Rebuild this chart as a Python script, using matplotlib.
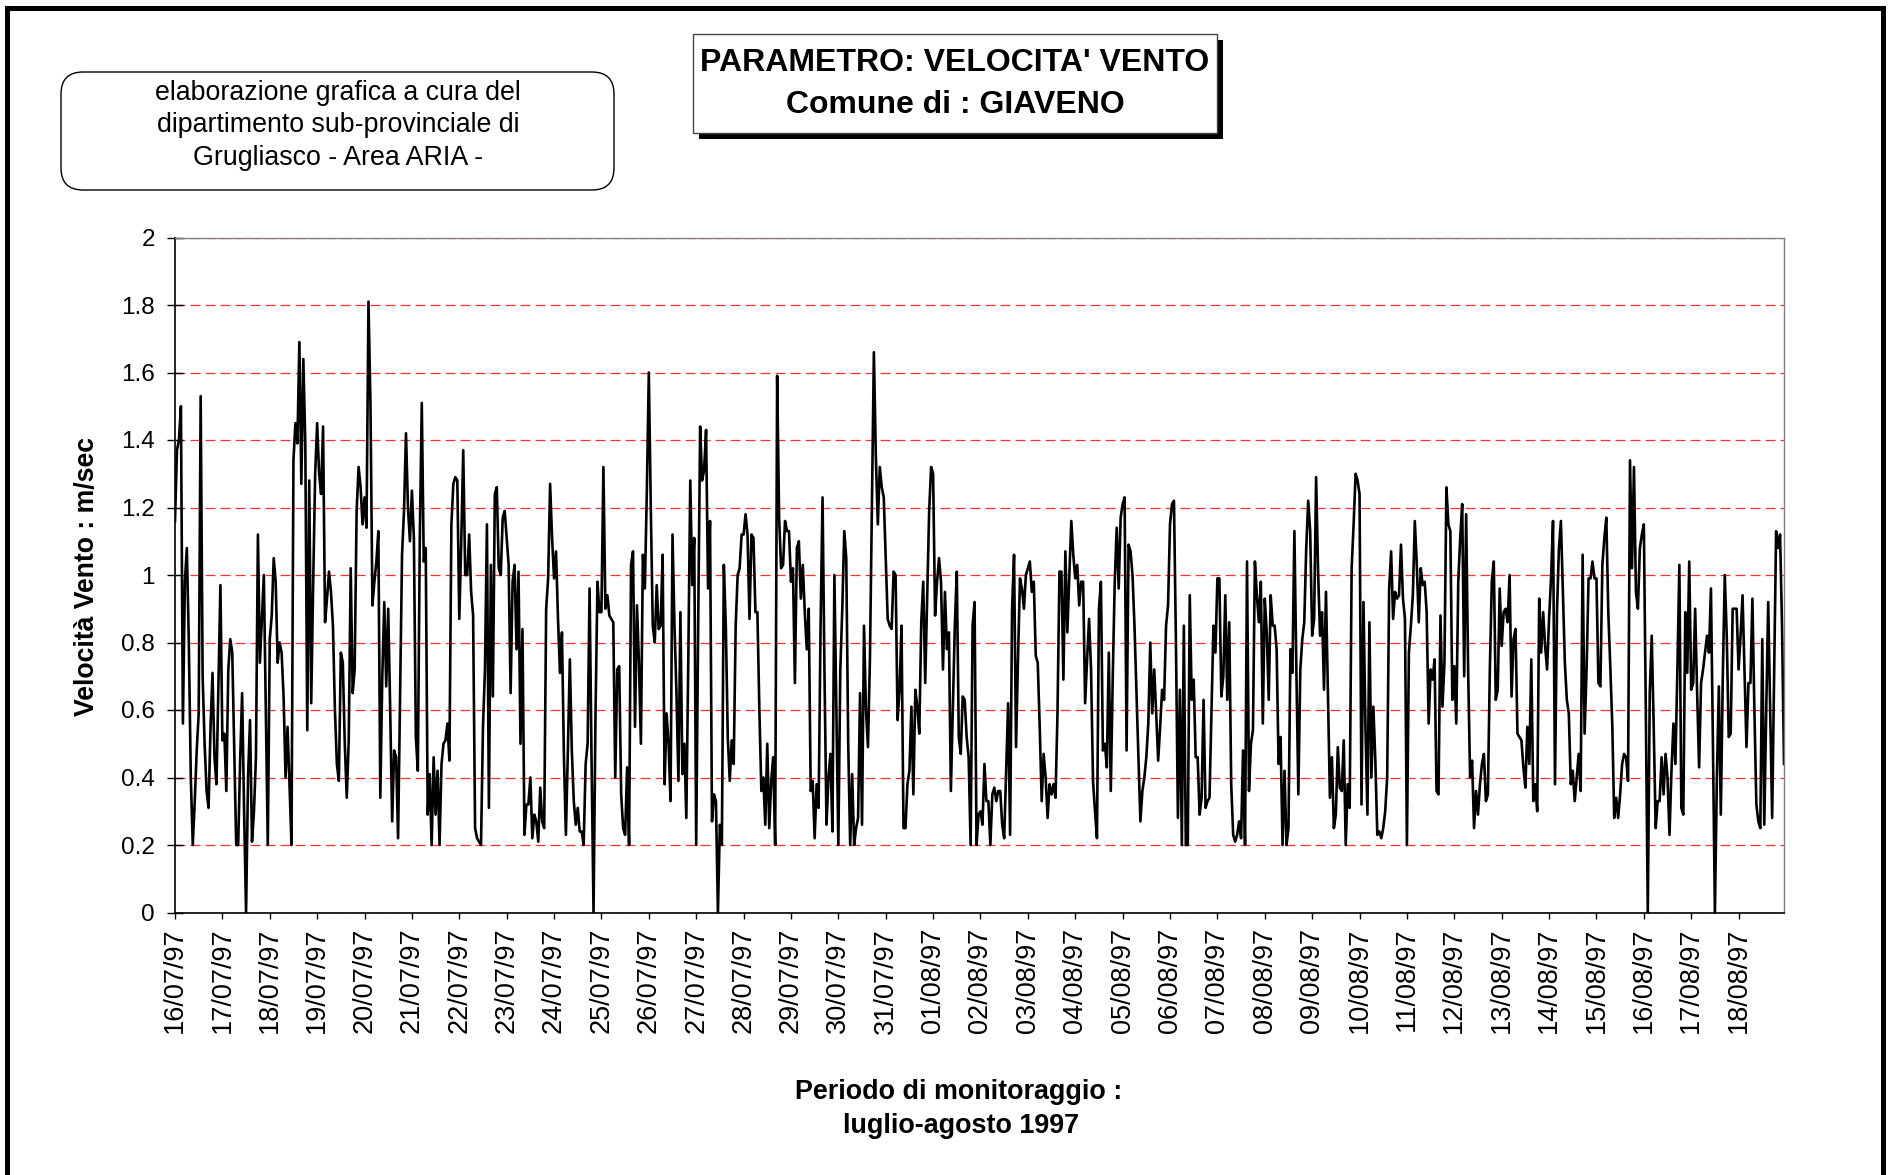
import numpy as np
import matplotlib
matplotlib.use("Agg")
import matplotlib.pyplot as plt
from matplotlib.patches import Rectangle, FancyBboxPatch

# Hourly wind speed (m/sec), 16/07/97 00h -> 31/07/97 23h
velocita_luglio = [
    1.16,1.37,1.40,1.50,0.56,0.98,1.08,0.80,0.40,0.20,0.33,0.48,0.59,1.53,0.70,0.50,0.36,0.31,0.55,0.71,0.46,0.38,0.68,0.97,
    0.51,0.53,0.36,0.72,0.81,0.77,0.48,0.20,0.20,0.45,0.65,0.30,0.00,0.40,0.57,0.21,0.30,0.46,1.12,0.74,0.87,1.00,0.60,0.20,
    0.81,0.88,1.05,0.98,0.74,0.80,0.77,0.64,0.40,0.55,0.38,0.20,1.34,1.45,1.39,1.69,1.27,1.64,1.39,0.54,1.28,0.62,0.98,1.30,
    1.45,1.30,1.24,1.44,0.86,0.93,1.01,0.95,0.85,0.60,0.44,0.39,0.77,0.74,0.50,0.34,0.51,1.02,0.65,0.72,1.19,1.32,1.26,1.15,
    1.23,1.14,1.81,1.51,0.91,0.98,1.04,1.13,0.34,0.70,0.92,0.67,0.90,0.60,0.27,0.48,0.46,0.22,0.64,1.06,1.19,1.42,1.20,1.10,
    1.25,1.11,0.52,0.42,1.11,1.51,1.04,1.08,0.29,0.41,0.20,0.46,0.29,0.42,0.20,0.44,0.50,0.51,0.56,0.45,1.15,1.27,1.29,1.28,
    0.87,1.10,1.37,1.00,1.00,1.12,0.95,0.88,0.25,0.22,0.21,0.20,0.55,0.72,1.15,0.31,1.03,0.64,1.24,1.26,1.02,1.00,1.17,1.19,
    1.11,1.03,0.65,0.98,1.03,0.78,1.01,0.50,0.84,0.23,0.32,0.32,0.40,0.22,0.29,0.27,0.21,0.37,0.27,0.25,0.90,0.99,1.27,1.11,
    0.99,1.07,0.87,0.71,0.83,0.46,0.23,0.48,0.75,0.48,0.33,0.26,0.31,0.24,0.24,0.20,0.44,0.50,0.96,0.45,0.00,0.59,0.98,0.89,
    0.89,1.32,0.90,0.94,0.88,0.87,0.86,0.40,0.72,0.73,0.35,0.25,0.23,0.43,0.20,1.03,1.07,0.55,0.91,0.74,0.50,1.06,0.96,1.25,
    1.60,1.20,0.85,0.80,0.97,0.84,0.85,1.06,0.38,0.59,0.50,0.33,1.12,0.85,0.65,0.39,0.89,0.41,0.50,0.28,0.75,1.28,0.97,1.11,
    0.20,0.85,1.44,1.28,1.31,1.43,0.96,1.16,0.27,0.35,0.33,0.00,0.26,0.20,1.03,0.85,0.52,0.39,0.51,0.44,0.85,1.00,1.02,1.12,
    1.12,1.18,1.12,0.87,1.12,1.11,0.89,0.89,0.60,0.36,0.40,0.26,0.50,0.25,0.39,0.46,0.20,1.59,1.17,1.02,1.03,1.16,1.13,1.13,
    0.98,1.02,0.68,1.08,1.10,0.93,1.03,0.89,0.78,0.90,0.36,0.39,0.22,0.38,0.31,0.85,1.23,0.70,0.26,0.40,0.47,0.24,1.00,0.59,
    0.20,0.72,0.90,1.13,1.05,0.50,0.20,0.41,0.20,0.25,0.28,0.65,0.26,0.85,0.60,0.49,0.75,1.20,1.66,1.35,1.15,1.32,1.26,1.23,
    1.05,0.87,0.85,0.84,1.01,1.00,0.57,0.66,0.85,0.25,0.25,0.38,0.42,0.61,0.35,0.66,0.61,0.53,0.86,0.98,0.68,0.94,1.19,1.32,
]

# Hourly wind speed (m/sec), 01/08/97 00h -> 18/08/97 23h
velocita_agosto = [
    1.30,0.88,0.98,1.05,0.98,0.72,0.95,0.78,0.83,0.36,0.60,0.85,1.01,0.52,0.47,0.64,0.63,0.52,0.46,0.20,0.85,0.92,0.20,0.29,
    0.30,0.26,0.44,0.33,0.33,0.20,0.35,0.37,0.33,0.36,0.36,0.26,0.22,0.42,0.62,0.23,0.90,1.06,0.49,0.75,0.99,0.96,0.90,1.00,
    1.02,1.04,0.95,0.98,0.76,0.74,0.55,0.33,0.47,0.40,0.28,0.38,0.35,0.38,0.34,0.59,1.01,1.01,0.69,1.07,0.83,1.00,1.16,1.06,
    0.99,1.03,0.91,0.98,0.98,0.62,0.75,0.87,0.72,0.39,0.30,0.22,0.90,0.98,0.48,0.50,0.43,0.77,0.36,0.70,0.98,1.14,0.96,1.17,
    1.21,1.23,0.48,1.09,1.07,1.00,0.85,0.65,0.46,0.27,0.36,0.40,0.46,0.56,0.80,0.59,0.72,0.59,0.45,0.55,0.66,0.63,0.85,0.91,
    1.15,1.21,1.22,0.80,0.28,0.66,0.20,0.85,0.20,0.20,0.94,0.63,0.69,0.46,0.46,0.29,0.34,0.63,0.31,0.33,0.34,0.59,0.85,0.77,
    0.99,0.99,0.64,0.70,0.94,0.63,0.86,0.38,0.23,0.21,0.23,0.27,0.22,0.48,0.20,1.04,0.36,0.50,0.54,1.04,0.94,0.86,0.98,0.56,
    0.93,0.83,0.63,0.94,0.85,0.85,0.78,0.44,0.52,0.20,0.42,0.20,0.25,0.78,0.71,1.13,0.72,0.35,0.72,0.81,0.86,1.08,1.22,1.13,
    0.82,0.87,1.29,1.01,0.82,0.89,0.66,0.95,0.65,0.34,0.46,0.25,0.29,0.49,0.37,0.36,0.51,0.20,0.38,0.31,1.02,1.15,1.30,1.28,
    1.24,0.32,0.92,0.55,0.29,0.86,0.40,0.61,0.45,0.23,0.24,0.22,0.25,0.30,0.40,0.96,1.07,0.87,0.95,0.93,0.94,1.09,0.93,0.87,
    0.20,0.77,0.85,0.94,1.16,1.03,0.86,1.02,0.97,0.98,0.89,0.56,0.72,0.69,0.75,0.36,0.35,0.88,0.61,0.74,1.26,1.15,1.13,0.63,
    0.73,0.56,0.98,1.11,1.21,0.70,1.18,0.72,0.40,0.45,0.25,0.36,0.29,0.38,0.44,0.47,0.33,0.35,0.72,0.98,1.04,0.63,0.66,0.96,
    0.79,0.89,0.90,0.86,1.00,0.64,0.81,0.84,0.53,0.52,0.51,0.43,0.37,0.55,0.44,0.75,0.33,0.38,0.30,0.93,0.77,0.89,0.79,0.72,
    0.87,0.99,1.16,0.38,0.89,1.08,1.16,0.95,0.74,0.63,0.59,0.38,0.42,0.33,0.40,0.47,0.36,1.06,0.53,0.72,0.99,0.99,1.04,0.99,
    0.99,0.68,0.67,1.03,1.11,1.17,0.89,0.73,0.56,0.28,0.34,0.28,0.35,0.44,0.47,0.46,0.39,1.34,1.02,1.32,0.95,0.90,1.08,1.12,
    1.15,0.60,0.00,0.65,0.82,0.55,0.25,0.33,0.33,0.46,0.35,0.47,0.40,0.23,0.42,0.56,0.44,0.72,1.03,0.31,0.29,0.89,0.71,1.04,
    0.66,0.68,0.90,0.65,0.43,0.68,0.72,0.77,0.82,0.77,0.96,0.50,0.00,0.40,0.67,0.29,0.70,1.00,0.82,0.52,0.53,0.90,0.90,0.90,
    0.72,0.82,0.94,0.72,0.49,0.68,0.68,0.93,0.60,0.32,0.27,0.25,0.81,0.26,0.60,0.92,0.60,0.28,0.70,1.13,1.08,1.12,0.85,0.44,
]

date_labels = ["16/07/97", "17/07/97", "18/07/97", "19/07/97", "20/07/97", "21/07/97",
               "22/07/97", "23/07/97", "24/07/97", "25/07/97", "26/07/97", "27/07/97",
               "28/07/97", "29/07/97", "30/07/97", "31/07/97", "01/08/97", "02/08/97",
               "03/08/97", "04/08/97", "05/08/97", "06/08/97", "07/08/97", "08/08/97",
               "09/08/97", "10/08/97", "11/08/97", "12/08/97", "13/08/97", "14/08/97",
               "15/08/97", "16/08/97", "17/08/97", "18/08/97"]
y_ticks = [0, 0.2, 0.4, 0.6, 0.8, 1.0, 1.2, 1.4, 1.6, 1.8, 2.0]
y_tick_labels = ["0", "0.2", "0.4", "0.6", "0.8", "1", "1.2", "1.4", "1.6", "1.8", "2"]

title_lines = ["PARAMETRO: VELOCITA' VENTO", "Comune di : GIAVENO"]
note_lines = ["elaborazione grafica a cura del", "dipartimento sub-provinciale di",
              "Grugliasco - Area ARIA -"]
y_title = "Velocità Vento : m/sec"
x_title_lines = ["Periodo di monitoraggio :", "luglio-agosto 1997"]

plt.rcParams['font.family'] = ['Liberation Sans', 'DejaVu Sans']

speed = np.array(velocita_luglio + velocita_agosto)
hours = np.arange(len(speed))
hours_per_day = 24

W, H = 1890, 1175
fig = plt.figure(figsize=(W / 100, H / 100), dpi=100)
fig.patch.set_facecolor('white')

# background axes in pixel coordinates for decorations
bg = fig.add_axes([0, 0, 1, 1], zorder=0)
bg.set_xlim(0, W)
bg.set_ylim(H, 0)
bg.axis('off')

# outer frame (top, left, right)
bg.plot([7, 7, 1883, 1883], [H + 10, 8, 8, H + 10], color='black', lw=3.6,
        solid_joinstyle='miter', solid_capstyle='butt')

# title box with shadow
bg.add_patch(Rectangle((699, 40), 524, 99, facecolor='black', edgecolor='none'))
bg.add_patch(Rectangle((693, 34), 524, 99, facecolor='white', edgecolor='#444444', lw=1))
bg.text(955, 63, title_lines[0], ha='center', va='center', fontsize=23, fontweight='bold')
bg.text(955, 105, title_lines[1], ha='center', va='center', fontsize=23, fontweight='bold')

# note box
bg.add_patch(FancyBboxPatch((61, 72), 553, 118, boxstyle='round,pad=0,rounding_size=22',
                            facecolor='white', edgecolor='black', lw=1))
for i, line in enumerate(note_lines):
    bg.text(338, 93 + i * 32.5, line, ha='center', va='center', fontsize=19.3)

# axis titles
bg.text(87, 577, y_title, rotation=90, ha='center', va='center', fontsize=19.2, fontweight='bold')
bg.text(959, 1092, x_title_lines[0], ha='center', va='center', fontsize=19.4, fontweight='bold')
bg.text(961, 1126, x_title_lines[1], ha='center', va='center', fontsize=19.4, fontweight='bold')

# main plot
x0, x1, yt, yb = 175, 1784, 237.5, 912.5
ax = fig.add_axes([x0 / W, 1 - yb / H, (x1 - x0) / W, (yb - yt) / H], zorder=1)
ax.set_facecolor('white')
ax.plot(hours, speed, color='black', lw=1.9)
ax.set_xlim(0, len(speed) - 1)
ax.set_ylim(0, 2)

ax.set_yticks(y_ticks)
ax.set_yticklabels(y_tick_labels)
ax.set_xticks(hours[::hours_per_day])
ax.set_xticklabels(date_labels, rotation=90)

ax.set_axisbelow(True)
ax.yaxis.grid(True, color='#ff3030', lw=0.9, linestyle=(0, (8, 4)))
ax.xaxis.grid(False)

for s in ['top', 'right']:
    ax.spines[s].set_color('#808080')
    ax.spines[s].set_linewidth(1.0)
for s in ['left', 'bottom']:
    ax.spines[s].set_color('black')
    ax.spines[s].set_linewidth(1.2)

ax.tick_params(axis='y', direction='inout', length=11, width=1.0, pad=9, labelsize=17.5)
ax.tick_params(axis='x', direction='out', length=4, width=1.0, pad=7, labelsize=19.5)

fig.savefig('out.png', dpi=100, facecolor='white')
